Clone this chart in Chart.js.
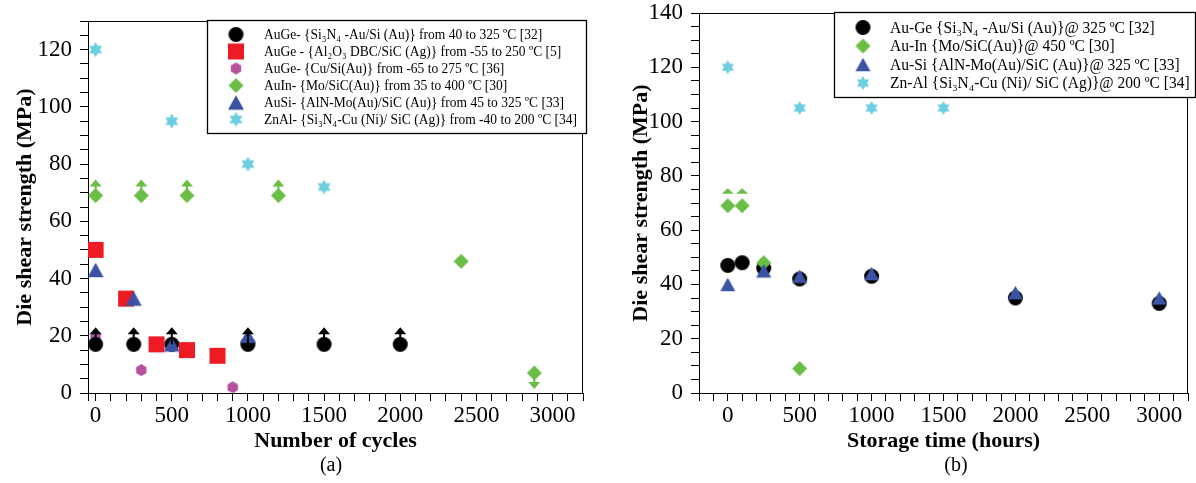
<!DOCTYPE html>
<html>
<head>
<meta charset="utf-8">
<script src="https://cdn.jsdelivr.net/npm/chart.js@4.4.0/dist/chart.umd.min.js"></script>
<style>
  body { margin: 0; background: #fff; width: 1196px; height: 483px; overflow: hidden; position: relative; font-family: "Liberation Serif", serif; }
  .panel { position: absolute; top: 0; width: 598px; height: 483px; }
  #pa { left: 0; }
  #pb { left: 598px; }
  .cap { position: absolute; top: 453px; width: 60px; text-align: center; font-size: 20px; color: #000; }
</style>
</head>
<body>
<div class="panel" id="pa"><canvas id="chartA" width="598" height="483"></canvas></div>
<div class="panel" id="pb"><canvas id="chartB" width="598" height="483"></canvas></div>
<div class="cap" style="left:301px">(a)</div>
<div class="cap" style="left:926px">(b)</div>
<script>
// ---- panel (a): die shear strength vs number of cycles ----
const cyclesAuGeSi = [0, 250, 500, 1000, 1500, 2000];
const shearAuGeSi  = [17, 17, 17, 17, 17, 17];
const arrowsAuGeSi = ['up', 'up', 'up', 'up', 'up', 'up'];

const cyclesAuGeAl = [0, 200, 400, 600, 800];
const shearAuGeAl  = [50, 33, 17, 15, 13];

const cyclesAuGeCu = [0, 300, 900];
const shearAuGeCu  = [20, 8, 2];

const cyclesAuIn = [0, 300, 600, 1200, 2400, 2880];
const shearAuIn  = [69, 69, 69, 69, 46, 7];
const arrowsAuIn = ['up', 'up', 'up', 'up', '', 'down'];

const cyclesAuSi = [0, 250, 500, 1000];
const shearAuSi  = [43, 33, 17, 20];

const cyclesZnAl = [0, 500, 1000, 1500];
const shearZnAl  = [120, 95, 80, 72];

const labelsA = [
  'AuGe- {Si\u2083N\u2084 -Au/Si (Au)} from 40 to 325 \u00baC [32]',
  'AuGe - {Al\u2082O\u2083 DBC/SiC (Ag)} from -55 to 250 \u00baC [5]',
  'AuGe- {Cu/Si(Au)} from -65 to 275 \u00baC [36]',
  'AuIn- {Mo/SiC(Au)} from 35 to 400 \u00baC [30]',
  'AuSi- {AlN-Mo(Au)/SiC (Au)} from 45 to 325 \u00baC [33]',
  'ZnAl- {Si\u2083N\u2084-Cu (Ni)/ SiC (Ag)} from -40 to 200 \u00baC [34]'
];

// ---- panel (b): die shear strength vs storage time ----
const hoursAuGe  = [0, 100, 250, 500, 1000, 2000, 3000];
const shearAuGeB = [47, 48, 46, 42, 43, 35, 33];

const hoursAuIn  = [0, 100, 250, 500];
const shearAuInB = [69, 69, 48, 9];
const arrowsAuInB = ['up', 'up', '', ''];

const hoursAuSi  = [0, 250, 500, 1000, 2000, 3000];
const shearAuSiB = [40, 45, 43, 44, 37, 35];

const hoursZnAl  = [0, 500, 1000, 1500];
const shearZnAlB = [120, 105, 105, 105];

const labelsB = [
  'Au-Ge {Si\u2083N\u2084 -Au/Si (Au)}@ 325 \u00baC [32]',
  'Au-In {Mo/SiC(Au)}@ 450 \u00baC [30]',
  'Au-Si {AlN-Mo(Au)/SiC (Au)}@ 325 \u00baC [33]',
  'Zn-Al {Si\u2083N\u2084-Cu (Ni)/ SiC (Ag)}@ 200 \u00baC [34]'
];

// axis ticks (minor every 100 / 5, labelled every 500 / 20)
const xTicksA = [-50].concat(Array.from({length: 33}, (_, i) => i * 100));
const xTicksB = Array.from({length: 35}, (_, i) => -200 + i * 100);
const yTicksA = Array.from({length: 27}, (_, i) => i * 5);
const yTicksB = Array.from({length: 29}, (_, i) => i * 5);

const BLACK = '#000000', RED = '#ed1c24', PURPLE = '#b5519f', GREEN = '#6abd45', BLUE = '#3a53a4', CYAN = '#6dcde1';

function marker(shape, color, size) {
  const c = document.createElement('canvas');
  c.width = c.height = size + 2;
  const g = c.getContext('2d');
  const m = (size + 2) / 2, r = size / 2;
  g.fillStyle = color;
  g.beginPath();
  if (shape === 'circle') {
    g.arc(m, m, r, 0, Math.PI * 2);
  } else if (shape === 'square') {
    g.rect(m - r, m - r, size, size);
  } else if (shape === 'diamond') {
    g.moveTo(m, m - r); g.lineTo(m + r, m); g.lineTo(m, m + r); g.lineTo(m - r, m);
  } else if (shape === 'triangle') {
    const h = size * 0.9;
    g.moveTo(m, m - h / 2); g.lineTo(m + r, m + h / 2); g.lineTo(m - r, m + h / 2);
  } else if (shape === 'hexagon') {
    for (let i = 0; i < 6; i++) {
      const a = -Math.PI / 2 + i * Math.PI / 3;
      g.lineTo(m + r * Math.cos(a), m + r * Math.sin(a));
    }
  } else if (shape === 'star') {
    for (let k = 0; k < 2; k++) {
      g.moveTo(m + r * Math.cos(-Math.PI / 2 + k * Math.PI), m + r * Math.sin(-Math.PI / 2 + k * Math.PI));
      for (let i = 1; i < 3; i++) {
        const a = -Math.PI / 2 + k * Math.PI + i * 2 * Math.PI / 3;
        g.lineTo(m + r * Math.cos(a), m + r * Math.sin(a));
      }
      g.closePath();
    }
  }
  g.closePath();
  g.fill();
  return c;
}

function pts(xs, ys) { return xs.map((x, i) => ({x: x, y: ys[i]})); }

// arrows (lower-bound / upper-bound marks) drawn from each point position
const arrowPlugin = {
  id: 'arrows',
  afterDatasetsDraw(chart) {
    const ctx = chart.ctx;
    chart.data.datasets.forEach((ds, i) => {
      if (!ds.arrows) return;
      const a = ds.arrowStyle;
      chart.getDatasetMeta(i).data.forEach((p, j) => {
        const dir = ds.arrows[j];
        if (!dir) return;
        const s = dir === 'up' ? -1 : 1;
        ctx.save();
        ctx.fillStyle = ds.arrowColor;
        ctx.strokeStyle = ds.arrowColor;
        ctx.lineWidth = 2;
        if (a.stem) {
          ctx.beginPath();
          ctx.moveTo(p.x, p.y);
          ctx.lineTo(p.x, p.y + s * (a.len - a.headH + 1));
          ctx.stroke();
        }
        ctx.beginPath();
        ctx.moveTo(p.x, p.y + s * a.len);
        ctx.lineTo(p.x + a.headW / 2, p.y + s * (a.len - a.headH));
        ctx.lineTo(p.x - a.headW / 2, p.y + s * (a.len - a.headH));
        ctx.closePath();
        ctx.fill();
        ctx.restore();
      });
    });
  }
};

// full frame round the plot + boxed legend
const framePlugin = {
  id: 'frame',
  beforeDatasetsDraw(chart) {
    const {ctx, chartArea: a} = chart;
    ctx.save();
    ctx.strokeStyle = '#000';
    ctx.lineWidth = 1;
    ctx.strokeRect(Math.round(a.left) + 0.5, Math.round(a.top) + 0.5, Math.round(a.right - a.left) - 1, Math.round(a.bottom - a.top));
    ctx.restore();
  },
  afterDraw(chart, args, o) {
    const ctx = chart.ctx;
    ctx.save();
    ctx.fillStyle = '#fff';
    ctx.fillRect(o.x, o.y, o.w, o.h);
    ctx.strokeStyle = '#000';
    ctx.lineWidth = 1.3;
    ctx.strokeRect(o.x + 0.5, o.y + 0.5, o.w - 1, o.h - 1);
    ctx.font = o.font;
    ctx.fillStyle = '#000';
    ctx.textBaseline = 'middle';
    chart.data.datasets.forEach((ds, i) => {
      const y = o.y0 + i * o.step;
      const img = ds.pointStyle;
      ctx.drawImage(img, o.mx - img.width / 2, y - img.height / 2);
      ctx.save();
      ctx.translate(o.tx, y + 1);
      ctx.scale(o.sx, 1);
      ctx.fillText(ds.label, 0, 0);
      ctx.restore();
    });
    ctx.restore();
  }
};

function axes(xmin, xmax, xTicks, ymax, yTicks, xTitle, yWidth, yTitlePad) {
  const tickFont = {family: '"Liberation Serif", serif', size: 23};
  const titleFont = {family: '"Liberation Serif", serif', size: 22, weight: 'bold'};
  return {
    x: {
      type: 'linear', min: xmin, max: xmax,
      afterBuildTicks: s => { s.ticks = xTicks.map(v => ({value: v})); },
      afterFit: s => { s.height = 90; s.paddingLeft = 0; s.paddingRight = 0; },
      grid: {drawOnChartArea: false, drawTicks: true, tickLength: 8, color: '#000', tickColor: '#000'},
      border: {display: true, color: '#000', width: 1},
      ticks: {color: '#000', font: tickFont, padding: 1, autoSkip: false, maxRotation: 0,
        callback: v => (v % 500 === 0 ? String(v) : '')},
      title: {display: true, text: xTitle, color: '#000', font: titleFont, padding: {top: 0, bottom: 28}}
    },
    y: {
      type: 'linear', min: 0, max: ymax,
      afterBuildTicks: s => { s.ticks = yTicks.map(v => ({value: v})); },
      afterFit: s => { s.width = yWidth; s.paddingTop = 0; s.paddingBottom = 0; },
      grid: {drawOnChartArea: false, drawTicks: true, tickLength: 8, color: '#000', tickColor: '#000'},
      border: {display: true, color: '#000', width: 1},
      ticks: {color: '#000', font: tickFont, padding: 8, autoSkip: false,
        callback: v => (v % 20 === 0 ? String(v) : '')},
      title: {display: true, text: 'Die shear strength (MPa)', color: '#000', font: titleFont, padding: {top: yTitlePad, bottom: 0}}
    }
  };
}

const mA = {
  auge: marker('circle', BLACK, 15), al: marker('square', RED, 16), cu: marker('hexagon', PURPLE, 12),
  auin: marker('diamond', GREEN, 15), ausi: marker('triangle', BLUE, 16), znal: marker('star', CYAN, 15)
};
const arrowA = {stem: true, len: 17, headH: 7, headW: 12};

new Chart(document.getElementById('chartA'), {
  type: 'scatter',
  data: {
    datasets: [
      {label: labelsA[0], data: pts(cyclesAuGeSi, shearAuGeSi), pointStyle: mA.auge, order: 5, arrows: arrowsAuGeSi, arrowColor: BLACK, arrowStyle: arrowA},
      {label: labelsA[1], data: pts(cyclesAuGeAl, shearAuGeAl), pointStyle: mA.al, order: 4},
      {label: labelsA[2], data: pts(cyclesAuGeCu, shearAuGeCu), pointStyle: mA.cu, order: 6},
      {label: labelsA[3], data: pts(cyclesAuIn, shearAuIn), pointStyle: mA.auin, order: 2, arrows: arrowsAuIn, arrowColor: GREEN, arrowStyle: {stem: true, len: 16, headH: 7, headW: 12}},
      {label: labelsA[4], data: pts(cyclesAuSi, shearAuSi), pointStyle: mA.ausi, order: 1},
      {label: labelsA[5], data: pts(cyclesZnAl, shearZnAl), pointStyle: mA.znal, order: 0}
    ]
  },
  options: {
    responsive: false, animation: false,
    elements: {point: {radius: 7}},
    layout: {padding: {left: 0, top: 21, right: 15, bottom: 0}},
    scales: axes(-50, 3200, xTicksA, 130, yTicksA, 'Number of cycles', 88, 12),
    plugins: {
      legend: {display: false}, tooltip: {enabled: false},
      frame: {x: 207, y: 20, w: 380, h: 114, y0: 34.5, step: 17, mx: 236, tx: 264, sx: 0.9, font: '15px "Liberation Serif"'}
    }
  },
  plugins: [framePlugin, arrowPlugin]
});

const mB = {
  auge: marker('circle', BLACK, 15), auin: marker('diamond', GREEN, 15),
  ausi: marker('triangle', BLUE, 15), znal: marker('star', CYAN, 14)
};

new Chart(document.getElementById('chartB'), {
  type: 'scatter',
  data: {
    datasets: [
      {label: labelsB[0], data: pts(hoursAuGe, shearAuGeB), pointStyle: mB.auge, order: 5},
      {label: labelsB[1], data: pts(hoursAuIn, shearAuInB), pointStyle: mB.auin, order: 2, arrows: arrowsAuInB, arrowColor: GREEN, arrowStyle: {stem: false, len: 17.5, headH: 5.5, headW: 12}},
      {label: labelsB[2], data: pts(hoursAuSi, shearAuSiB), pointStyle: mB.ausi, order: 1},
      {label: labelsB[3], data: pts(hoursZnAl, shearZnAlB), pointStyle: mB.znal, order: 0}
    ]
  },
  options: {
    responsive: false, animation: false,
    elements: {point: {radius: 7}},
    layout: {padding: {left: 0, top: 13, right: 0, bottom: 0}},
    scales: axes(-200, 3200, xTicksB, 140, yTicksB, 'Storage time (hours)', 101, 30),
    plugins: {
      legend: {display: false}, tooltip: {enabled: false},
      frame: {x: 236, y: 12, w: 362, h: 86, y0: 27.5, step: 18.5, mx: 265, tx: 292, sx: 0.97, font: '16px "Liberation Serif"'}
    }
  },
  plugins: [framePlugin, arrowPlugin]
});
</script>
</body>
</html>
